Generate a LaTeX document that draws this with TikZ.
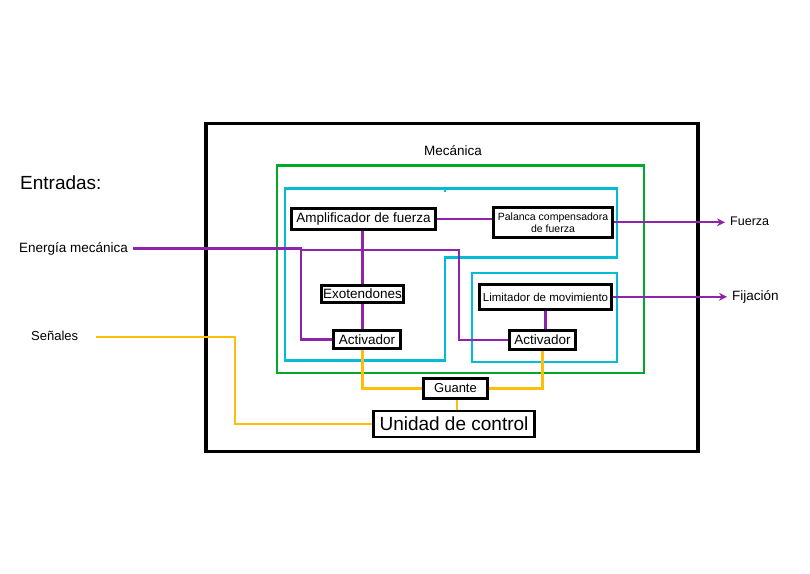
\documentclass[tikz,border=0pt]{standalone}
\usepackage{fontspec}
\setmainfont{Liberation Sans}
\usetikzlibrary{arrows.meta,calc}
\definecolor{cpurple}{RGB}{142,36,170}
\definecolor{camber}{RGB}{255,190,10}
\definecolor{cgreen}{RGB}{0,170,40}
\definecolor{ccyan}{RGB}{0,188,212}
\tikzset{
  blk/.style={draw=black,line width=2.6pt,fill=white,inner sep=0pt,align=center,
    font=\fontsize{13.5}{15}\selectfont},
  lbl/.style={inner xsep=5pt,inner ysep=0pt,text height=0.72em,text depth=0pt,
    font=\fontsize{13.5}{15}\selectfont},
  pline/.style={draw=cpurple,line width=2.2pt},
  oline/.style={draw=camber,line width=2.2pt},
  parrow/.style={pline,-{Stealth[length=8pt,width=8pt]}},
  gbox/.style={draw=cgreen,line width=2.4pt},
  cbox/.style={draw=ccyan,line width=2.4pt},
}
\begin{document}
\begin{tikzpicture}[x=1pt,y=-1pt]
\useasboundingbox (0,0) rectangle (810,573);
\fill[white] (0,0) rectangle (810,573);
% outer black frame
\draw[line width=3.6pt] (205.7,123.3) rectangle (697.7,451.3);
% green frame
\draw[gbox] (277,165.5) rectangle (643.8,372.8);
\node[lbl] (mec) at (453,152) {Mecánica};
% cyan frames
\draw[cbox] (285,188.5) -- (616.8,188.5) -- (616.8,257.3) -- (445,257.3) -- (445,360.5) -- (285,360.5) -- cycle;
\draw[cbox,line width=1.5pt] (445,188.5) -- (445,191.5);
\draw[cbox] (471.7,272.8) rectangle (616.8,362);
% boxes
\node[blk,minimum width=144pt,minimum height=21pt] (amp) at (363.5,219) {Amplificador de fuerza};
\node[blk,minimum width=119pt,minimum height=30pt,font=\fontsize{10.5}{12}\selectfont] (pal) at (553,222.5) {Palanca compensadora\\de fuerza};
\node[blk,minimum width=82pt,minimum height=17.5pt] (exo) at (362.5,294) {Exotendones};
\node[blk,minimum width=67pt,minimum height=18pt] (actL) at (367,339.5) {Activador};
\node[blk,minimum width=132pt,minimum height=25pt,font=\fontsize{11.5}{13}\selectfont] (lim) at (545.5,297) {Limitador de movimiento};
\node[blk,minimum width=66pt,minimum height=19pt] (actR) at (542.5,340) {Activador};
\node[blk,minimum width=64pt,minimum height=20pt,font=\fontsize{13}{15}\selectfont] (guante) at (455.5,388.5) {Guante};
\node[blk,minimum width=161pt,minimum height=26pt,font=\fontsize{19}{21}\selectfont] (unidad) at (454,424) {Unidad de control};
% side labels
\node[lbl,anchor=west,inner xsep=0pt,font=\fontsize{19}{21}\selectfont] (entradas) at (20,185.5) {Entradas:};
\node[lbl,anchor=west] (energia) at (14,248.5) {Energía mecánica};
\node[lbl,anchor=west,font=\fontsize{13}{15}\selectfont] (senales) at (26,337.3) {Señales};
\node[lbl,anchor=west,font=\fontsize{12.5}{15}\selectfont] (fuerza) at (725,222.3) {Fuerza};
\node[lbl,anchor=west] (fijacion) at (727,296.8) {Fijación};
% junction coordinates
\coordinate (eL) at (301,248.5);
\coordinate (eR) at (459.3,250.3);
\coordinate (sC) at (235,337.3);
% purple connectors
\draw[pline] (amp.east) -- (amp.east -| pal.west);
\draw[pline] (exo.north |- amp.south) -- (exo.north);
\draw[pline] (exo.south) -- (exo.south |- actL.north);
\draw[pline] (energia.east) -- (eL) |- (actL.west);
\draw[pline] (eL |- eR) -- (eR) |- (actR.west);
\draw[pline] (lim.south) -- (lim.south |- actR.north);
\draw[parrow] (pal.east |- fuerza.west) -- (fuerza.west);
\draw[parrow] (lim.east |- fijacion.west) -- (fijacion.west);
% amber connectors
\draw[oline] ([xshift=13pt]senales.east) -- (sC) |- (unidad.west);
\draw[oline] (exo.south |- actL.south) |- (guante.west);
\draw[oline] (actR.south) |- (guante.east);
\draw[oline] ([xshift=1.8pt]guante.south) -- ([xshift=1.8pt]guante.south |- unidad.north);
\end{tikzpicture}
\end{document}
